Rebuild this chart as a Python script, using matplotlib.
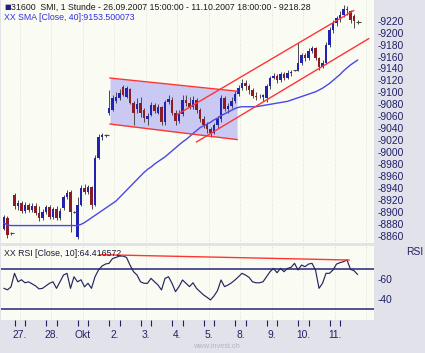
import matplotlib
matplotlib.use('Agg')
import matplotlib.pyplot as plt
import numpy as np

plt.rcParams['font.family'] = ['Liberation Sans', 'DejaVu Sans']

# session layout: 26.09 from 15:00, then full hourly sessions
day_labels = ['27.', '28.', 'Okt', '2.', '3.', '4.', '5.', '8.', '9.', '10.', '11.']
bars_per_day = [3, 9, 9, 9, 9, 9, 9, 9, 9, 9, 9, 9]

opens = [8872, 8890, 8864,
         8928, 8910, 8915, 8902, 8912, 8903, 8910, 8898, 8890,
         8900, 8908, 8892, 8904, 8890, 8906, 8925, 8934, 8900,
         8858, 8912, 8940, 8934, 8941, 8912, 8990, 9025, 9028,
         9066, 9071, 9085, 9091, 9109, 9093, 9105, 9082, 9072,
         9082, 9070, 9055, 9062, 9079, 9066, 9075, 9050, 9084,
         9088, 9066, 9052, 9064, 9088, 9082, 9076, 9088, 9070,
         9056, 9045, 9038, 9032, 9045, 9055, 9090, 9072, 9078,
         9086, 9098, 9108, 9116, 9110, 9104, 9094, 9092, 9093,
         9090, 9110, 9124, 9128, 9120, 9130, 9124, 9132, 9137,
         9137, 9150, 9162, 9158, 9170, 9174, 9158, 9142, 9150,
         9180, 9204, 9216, 9224, 9230, 9240, 9236, 9228, 9218.28]
highs = [8895, 8893, 8866,
         8932, 8920, 8918, 8916, 8915, 8915, 8914, 8910, 8905,
         8912, 8912, 8908, 8910, 8906, 8928, 8936, 8937, 8902,
         8925, 8945, 8946, 8945, 8944, 8995, 9030, 9032, 9030,
         9104, 9095, 9100, 9105, 9113, 9110, 9108, 9086, 9090,
         9092, 9074, 9065, 9084, 9083, 9080, 9078, 9088, 9095,
         9092, 9070, 9070, 9095, 9096, 9092, 9094, 9090, 9074,
         9060, 9050, 9042, 9048, 9060, 9095, 9094, 9082, 9092,
         9102, 9112, 9122, 9120, 9114, 9108, 9100, 9098, 9098,
         9114, 9128, 9132, 9130, 9134, 9134, 9138, 9138, 9138,
         9185, 9166, 9166, 9174, 9178, 9176, 9160, 9154, 9185,
         9210, 9222, 9228, 9236, 9246, 9244, 9238, 9232, 9222]
lows = [8869, 8856, 8862,
        8905, 8903, 8898, 8898, 8899, 8900, 8895, 8885, 8887,
        8897, 8888, 8888, 8886, 8887, 8903, 8921, 8866, 8898,
        8855, 8910, 8930, 8930, 8905, 8910, 8988, 9020, 9026,
        9062, 9068, 9082, 9088, 9094, 9090, 9080, 9045, 9066,
        9059, 9050, 9046, 9060, 9065, 9063, 9045, 9046, 9080,
        9062, 9046, 9048, 9060, 9078, 9072, 9072, 9066, 9050,
        9040, 9032, 9026, 9030, 9040, 9050, 9068, 9066, 9074,
        9082, 9094, 9104, 9104, 9098, 9090, 9088, 9090, 9086,
        9084, 9106, 9122, 9116, 9118, 9120, 9122, 9128, 9136,
        9135, 9146, 9152, 9155, 9166, 9155, 9138, 9140, 9148,
        9176, 9200, 9212, 9218, 9226, 9230, 9216, 9208, 9214]
closes = [8892, 8861, 8864,
          8910, 8915, 8902, 8912, 8903, 8910, 8898, 8890, 8900,
          8908, 8892, 8904, 8890, 8902, 8925, 8932, 8900, 8900,
          8912, 8940, 8934, 8941, 8912, 8990, 9025, 9028, 9028,
          9074, 9091, 9093, 9099, 9096, 9107, 9083, 9066, 9080,
          9066, 9057, 9060, 9079, 9068, 9076, 9050, 9084, 9089,
          9066, 9052, 9064, 9088, 9082, 9076, 9088, 9070, 9056,
          9045, 9038, 9032, 9045, 9055, 9090, 9072, 9078, 9086,
          9098, 9108, 9116, 9110, 9104, 9094, 9092, 9093, 9095,
          9110, 9124, 9128, 9120, 9130, 9124, 9132, 9134, 9137,
          9150, 9162, 9158, 9170, 9174, 9158, 9142, 9150, 9180,
          9204, 9216, 9224, 9230, 9240, 9238, 9222, 9220, 9218.28]

sma40 = [8881, 8878, 8877, 8877, 8877, 8877, 8877, 8877, 8877, 8877,
         8877, 8877, 8877, 8877, 8877, 8877, 8877, 8877, 8877, 8877,
         8877, 8877, 8879, 8882, 8886, 8890, 8894, 8898, 8902, 8906,
         8910, 8914, 8918, 8924, 8930, 8936, 8942, 8948, 8954, 8960,
         8966, 8971, 8975, 8980, 8984, 8988, 8992, 8997, 9002, 9007,
         9012, 9017, 9021, 9026, 9031, 9036, 9041, 9044, 9047, 9050,
         9054, 9057, 9061, 9064, 9067, 9070, 9073, 9075, 9076, 9076,
         9076, 9076, 9076, 9077, 9078, 9079, 9080, 9081, 9082, 9083,
         9084, 9085, 9087, 9089, 9091, 9093, 9095, 9097, 9099, 9101,
         9104, 9107, 9111, 9115, 9120, 9125, 9130, 9136, 9141, 9146,
         9150, 9154]

rsi10 = [50.5, 49, 52,
         65.4, 57, 59, 56, 57, 55, 53, 50, 50.5,
         53, 55.5, 57, 50.5, 57, 63.7, 65.4, 50.5, 62,
         57, 59, 52, 55.5, 50.5, 62, 68.7, 72.6, 74.6,
         75.3, 80, 81.2, 82.5, 82.5, 81.2, 73.6, 67, 63.7,
         57, 55.5, 55.5, 60.4, 57, 53.8, 48.9, 60.4, 62,
         55.5, 47.2, 52.2, 58.8, 55.5, 52.2, 56, 50.5, 47.2,
         44, 41.6, 39, 43, 48.2, 58.8, 52.2, 53.8, 56,
         58.8, 62, 65.4, 63.7, 61.4, 57, 56, 56, 57,
         62, 67, 70.3, 66, 70.3, 67, 70.3, 71.3, 75.3,
         68.7, 73.6, 72, 74.6, 75.3, 68.7, 50.5, 55.5, 65.4,
         65.4, 68.7, 74.6, 76, 77, 78.6, 69.3, 68, 64.4]

# drawing objects (bar index, price / rsi)
flag_x = [30.3, 66.6]
flag_top = [9124, 9102]
flag_bottom = [9047, 9021]
chan_upper_x = [49.5, 99.9]
chan_upper_y = [9063, 9237]
chan_lower_x = [55.0, 104.2]
chan_lower_y = [9017, 9190]
rsi_line_x = [27.4, 98.6]
rsi_line_y = [83.9, 78.6]

price_ticks = list(range(8860, 9221, 20))
rsi_ticks = [60, 40]

BG = '#e2e2ea'
PANEL = '#fafcf3'
NAVY = '#20206a'
UP = '#2222b0'
DOWN = '#8c1c24'
WICK = '#4a4a4a'
RED = '#ff3434'

fig = plt.figure(figsize=(4.25, 3.53), dpi=100, facecolor=BG)
W, H = 425, 353
ax = fig.add_axes([1 / W, 1 - 243 / H, 373 / W, 243 / H], facecolor=PANEL)
ax2 = fig.add_axes([1 / W, 1 - 320 / H, 373 / W, 74 / H], facecolor=PANEL)

x = np.arange(len(closes))
o, hi, lo, c = (np.array(a, dtype=float) for a in (opens, highs, lows, closes))
up = c > o
dn = c < o
fl = c == o

starts = np.cumsum([0] + bars_per_day[:-1])
day_starts = starts[1:]
label_x = day_starts + 1.5
grid_x = np.append(label_x, label_x[-1] + bars_per_day[-1])

for a in (ax, ax2):
    for gx in grid_x:
        a.axvline(gx, color='#d4d8cc', lw=0.6, ls=(0, (1, 2)), zorder=0)
    for s in a.spines.values():
        s.set_visible(False)
    a.set_xlim(-0.857, 105.71)

# main panel
ax.fill_between(flag_x, flag_bottom, flag_top, color='#c9c9f3', lw=0, zorder=1)
ax.vlines(x, lo, hi, color=WICK, lw=0.7, zorder=3)
ax.bar(x[up], c[up] - o[up], bottom=o[up], width=0.65, color=UP, lw=0, zorder=4)
ax.bar(x[dn], o[dn] - c[dn], bottom=c[dn], width=0.65, color=DOWN, lw=0, zorder=4)
ax.hlines(c[fl], x[fl] - 0.3, x[fl] + 0.9, color=WICK, lw=0.8, zorder=4)
ax.plot(x, sma40, color='#4848e8', lw=1.0, zorder=5)
ax.plot(flag_x, flag_top, color=RED, lw=1.0, zorder=6)
ax.plot(flag_x, flag_bottom, color=RED, lw=1.0, zorder=6)
ax.plot(chan_upper_x, chan_upper_y, color=RED, lw=1.0, zorder=6)
ax.plot(chan_lower_x, chan_lower_y, color=RED, lw=1.0, zorder=6)

ax.set_ylim(8847.8, 9254.7)
ax.yaxis.tick_right()
ax.set_yticks(price_ticks)
ax.set_yticklabels([f'-{v}' for v in price_ticks])
ax.tick_params(axis='y', length=0, pad=2.5, labelsize=7.4, labelcolor=NAVY)
ax.set_xticks([])

ax.text(0.008, 1 - 7.5 / 243, '\u25a0', transform=ax.transAxes, fontsize=5,
        color='#202080', va='center', ha='left', family='DejaVu Sans')
ax.text(0.028, 1 - 7.5 / 243,
        '31600  SMI, 1 Stunde - 26.09.2007 15:00:00 - 11.10.2007 18:00:00 - 9218.28',
        transform=ax.transAxes, fontsize=6.3, color='#1a1a1a', va='center', ha='left')
ax.text(0.008, 1 - 17.5 / 243, 'XX SMA [Close, 40]:9153.500073',
        transform=ax.transAxes, fontsize=6.3, color='#3030e0', va='center', ha='left')

# RSI panel
ax2.axhline(70, color='#45458a', lw=1.3, zorder=2)
ax2.axhline(30, color='#45458a', lw=1.3, zorder=2)
ax2.plot(x, rsi10, color='#25255e', lw=0.85, zorder=3)
ax2.plot(rsi_line_x, rsi_line_y, color=RED, lw=1.0, zorder=4)
ax2.set_ylim(19.1, 92.5)
ax2.yaxis.tick_right()
ax2.set_yticks(rsi_ticks)
ax2.set_yticklabels([f'-{v}' for v in rsi_ticks])
ax2.tick_params(axis='y', length=0, pad=2.5, labelsize=7.4, labelcolor=NAVY)
ax2.text(0.008, 1 - 8 / 74, 'XX RSI [Close, 10]:64.416572', transform=ax2.transAxes,
         fontsize=6.3, color='#1a1a3a', va='center', ha='left', zorder=5)
ax2.text(422 / 373, 1 - 6 / 74, 'RSI', transform=ax2.transAxes, fontsize=7.4,
         color=NAVY, va='center', ha='right')

tick_pos = np.sort(np.concatenate([day_starts, day_starts + 3]))
ax2.set_xticks(tick_pos)
ax2.set_xticklabels([])
ax2.set_xticks(label_x, minor=True)
ax2.set_xticklabels(day_labels, minor=True)
ax2.tick_params(axis='x', which='major', length=4, width=0.8, color=NAVY, direction='out', pad=1)
ax2.tick_params(axis='x', which='minor', length=0, pad=7, labelsize=7.4, labelcolor=NAVY)

fig.text(216 / W, 1 - 347 / H, 'www.invest.ch', fontsize=5.3, color='#b4b4be',
         ha='center', va='center')

fig.savefig('out.png', dpi=100, facecolor=BG)
